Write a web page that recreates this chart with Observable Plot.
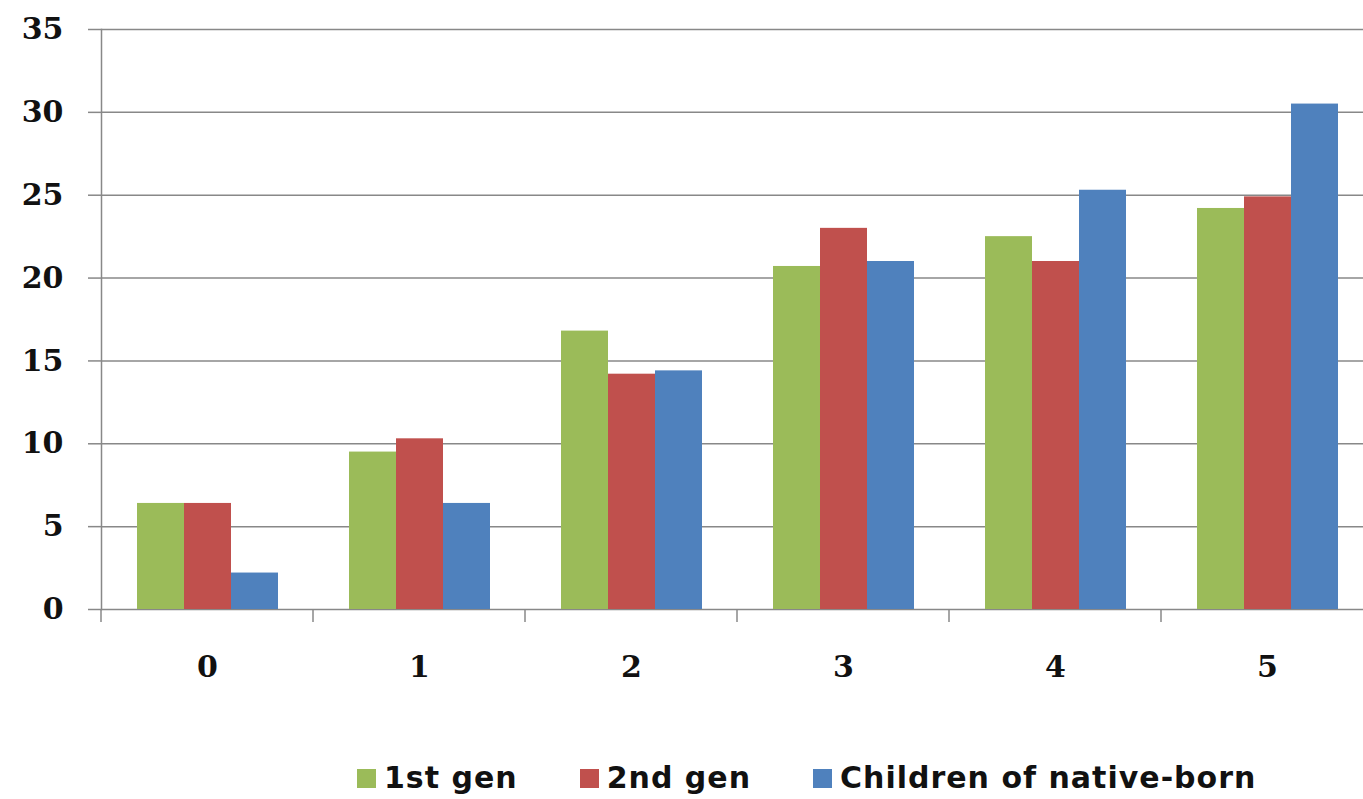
<!DOCTYPE html>
<html>
<head>
<meta charset="utf-8">
<script src="https://cdn.jsdelivr.net/npm/d3@7"></script>
<script src="https://cdn.jsdelivr.net/npm/@observablehq/plot@0.6"></script>
<style>
  html, body { margin: 0; padding: 0; background: #fff; overflow: hidden; }
  #chart svg { display: block; }
  .legend {
    display: flex;
    align-items: center;
    margin-top: 60px;
    padding-left: 357px;
    font-family: "DejaVu Sans", sans-serif;
    font-weight: bold;
    font-size: 30px;
    letter-spacing: 1px;
    line-height: 36px;
    color: #111;
  }
  .legend .item { display: flex; align-items: center; margin-right: 62px; }
  .legend .swatch { width: 19px; height: 19px; margin-right: 8px; }
</style>
</head>
<body>
<div id="chart"></div>
<script>
// Category labels along the x axis
const groups = ["0", "1", "2", "3", "4", "5"];

// Series names and colours
const seriesNames = ["1st gen", "2nd gen", "Children of native-born"];
const seriesColors = ["#9BBB59", "#C0504D", "#4F81BD"];

// Values per series, one per category
const firstGen   = [6.4, 9.5, 16.8, 20.7, 22.5, 24.2];
const secondGen  = [6.4, 10.3, 14.2, 23.0, 21.0, 24.9];
const nativeBorn = [2.2, 6.4, 14.4, 21.0, 25.3, 30.5];

// Y axis tick values
const yTicks = [0, 5, 10, 15, 20, 25, 30, 35];

const seriesValues = [firstGen, secondGen, nativeBorn];
const rows = groups.flatMap((g, i) =>
  seriesValues.map((vals, j) => ({group: g, series: seriesNames[j], value: vals[i]}))
);

const gridColor = "#888888";

// Small tick below the baseline at the left edge of each category band
function bandBoundaryTick(index, scales) {
  const x0 = scales.x.range()[0];
  const y0 = scales.y(0);
  return d3.create("svg:line")
    .attr("x1", x0).attr("x2", x0)
    .attr("y1", y0).attr("y2", y0 + 13)
    .attr("stroke", gridColor)
    .attr("stroke-width", 1.5)
    .node();
}

const chart = Plot.plot({
  width: 1373,
  height: 700,
  marginTop: 29,
  marginBottom: 91,
  marginLeft: 101,
  marginRight: 0,
  style: {
    fontFamily: "'DejaVu Serif', serif",
    fontSize: "30px",
    fontWeight: "bold",
    color: "#000",
    background: "#fff",
    maxWidth: "none",
    overflow: "visible"
  },
  fx: {domain: groups, padding: 0, label: null},
  x: {domain: seriesNames, paddingInner: 0, paddingOuter: 0.72, axis: null},
  y: {domain: [0, 35], label: null},
  color: {domain: seriesNames, range: seriesColors},
  marks: [
    Plot.ruleY(yTicks, {stroke: gridColor, strokeWidth: 1.5}),
    Plot.barY(rows, {fx: "group", x: "series", y: "value", fill: "series"}),
    Plot.frame({anchor: "left", facetAnchor: "left", stroke: gridColor, strokeWidth: 1.5}),
    bandBoundaryTick,
    Plot.axisY(yTicks, {
      tickSize: 13, tickPadding: 25, stroke: gridColor, strokeWidth: 1.5,
      fill: "#111", fontSize: 30, fontWeight: "bold", label: null
    }),
    Plot.axisFx({anchor: "bottom", tickSize: 0, tickPadding: 46, fill: "#111", fontSize: 30, fontWeight: "bold", label: null})
  ]
});

const root = document.getElementById("chart");
root.appendChild(chart);

// Legend below the chart
const legend = d3.select(root).append("div").attr("class", "legend");
seriesNames.forEach((name, i) => {
  const item = legend.append("div").attr("class", "item");
  item.append("div").attr("class", "swatch").style("background", seriesColors[i]);
  item.append("span").text(name);
});
</script>
</body>
</html>
